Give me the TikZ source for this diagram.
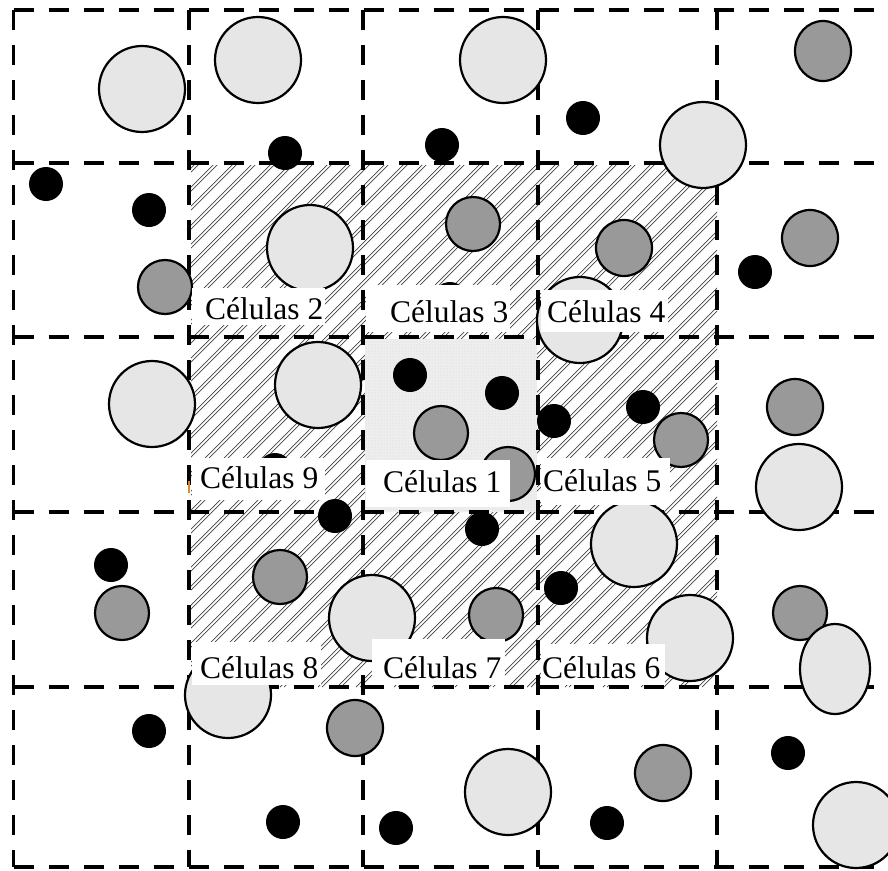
\documentclass[tikz,border=0pt]{standalone}
\usepackage{fontspec}
\setmainfont{Liberation Serif}
\usetikzlibrary{patterns}
\definecolor{lgray}{HTML}{E6E6E6}
\definecolor{mgray}{HTML}{999999}
\definecolor{stip}{HTML}{EEEEEE}
\definecolor{hatchc}{HTML}{444444}
\definecolor{orangemark}{HTML}{D98A2B}
\begin{document}
\begin{tikzpicture}[x=1pt,y=-1pt,
  gridline/.style={line width=3.8pt, dash pattern=on 20pt off 15pt},
  bigc/.style={draw=black, line width=2.2pt, fill=lgray},
  midc/.style={draw=black, line width=2.2pt, fill=mgray},
  blkc/.style={fill=black},
  hatchline/.style={draw=hatchc, line width=0.7pt},
  lbl/.style={font=\fontsize{31.5}{36}\selectfont, inner sep=0pt, anchor=base west},
  lblbox/.style={fill=white}]
\useasboundingbox (0,0) rectangle (888,870);
\fill[white] (0,0) rectangle (888,870);

% hatched 3x3 block
\begin{scope}
  \clip (191,165) rectangle (717,687);
  \foreach \c in {340,359,...,1420} {
    \draw[hatchline] (\c-163,163) -- (\c-687,687);
    \draw[hatchline] (\c-159,163) -- (\c-683,687);
  }
\end{scope}

% stippled centre cell
\fill[stip] (365,339) rectangle (537,512);
\fill[pattern=dots, pattern color=gray!35] (365,339) rectangle (537,512);

% dashed grid
\foreach \y in {10,163,337,512,687,867}
  \draw[gridline] (13.5,\y) -- (875,\y);
\foreach \x in {13.5,189,363,538,717}
  \draw[gridline] (\x,10) -- (\x,867);

% medium gray particles
\draw[midc] (823,51) ellipse [x radius=28pt, y radius=30pt];
\foreach \p/\r in {{473,224}/27,{624,248}/28,{810,238}/28,{165,287}/27,
  {441,433}/27,{508,474}/27,{681,440}/27,{795,407}/28,{280,577}/27,
  {122,613}/27,{496,615}/27,{800,613}/27,{355,728}/28,{663,773}/28}
  \draw[midc] (\p) circle [radius=\r pt];

% large light particles
\foreach \p in {{142,89},{258,60},{503,60},{703,145},{310,248},{580,320},
  {152,404},{318,385},{799,487},{634,544},{372,618},{690,638},{228,695},
  {508,792},{856,825}}
  \draw[bigc] (\p) circle [radius=43pt];
\draw[bigc] (835,669) ellipse [x radius=35pt, y radius=45pt];

% small black particles
\foreach \p in {{285,153},{442,145},{583,118},{46,184},{149,210},{755,272},
  {450,299},{410,375},{502,393},{554,421},{643,407},{275,470},{335,516},
  {482,529},{561,588},{111,565},{149,731},{283,822},{396,828},{607,823},
  {788,753}}
  \fill[blkc] (\p) circle [radius=17pt];

% label boxes
\fill[lblbox] (192,288) rectangle (325,325);
\fill[lblbox] (366,285) rectangle (510,332);
\fill[lblbox] (541,290) rectangle (668,332);
\fill[lblbox] (192,458) rectangle (325,500);
\fill[lblbox] (366,460) rectangle (510,507);
\fill[lblbox] (541,458) rectangle (670,505);
\fill[lblbox] (192,642) rectangle (321,685);
\fill[lblbox] (372,639) rectangle (505,685);
\fill[lblbox] (541,644) rectangle (665,685);

\draw[orangemark, line width=1.2pt] (189,481) -- (189,493);

% labels
\node[lbl] (c2) at (205,319) {Células 2};
\node[lbl] (c3) at (390,322) {Células 3};
\node[lbl] (c4) at (547,322) {Células 4};
\node[lbl] (c9) at (200,488) {Células 9};
\node[lbl] (c1) at (383,492) {Células 1};
\node[lbl] (c5) at (543,491) {Células 5};
\node[lbl] (c8) at (200,678) {Células 8};
\node[lbl] (c7) at (383,678) {Células 7};
\node[lbl] (c6) at (542,678) {Células 6};
\end{tikzpicture}
\end{document}
